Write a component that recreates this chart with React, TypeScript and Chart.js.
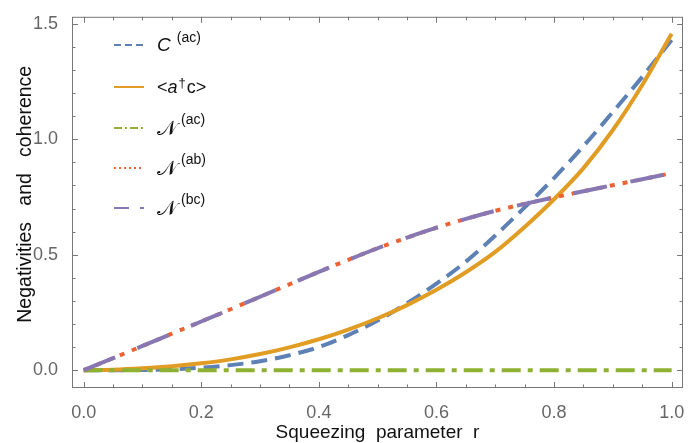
import React, { useEffect, useRef } from "react";
import { Chart, registerables } from "chart.js";

Chart.register(...registerables);

const rValues = [0, 0.05, 0.1, 0.15, 0.2, 0.25, 0.3, 0.35, 0.4, 0.45, 0.5, 0.55, 0.6, 0.65, 0.7, 0.75, 0.8, 0.85, 0.9, 0.95, 1.0];
const coherenceC = [0, 0, 0.001, 0.004, 0.011, 0.022, 0.039, 0.065, 0.1, 0.152, 0.215, 0.29, 0.375, 0.47, 0.583, 0.705, 0.832, 0.97, 1.118, 1.27, 1.43];
const correlationAC = [0, 0.002, 0.008, 0.017, 0.03, 0.047, 0.07, 0.099, 0.134, 0.176, 0.225, 0.282, 0.348, 0.424, 0.512, 0.62, 0.74, 0.875, 1.04, 1.235, 1.457];
const negAC = [0, 0, 0, 0, 0, 0, 0, 0, 0, 0, 0, 0, 0, 0, 0, 0, 0, 0, 0, 0, 0];
const negAB = [0, 0.052, 0.105, 0.158, 0.211, 0.264, 0.318, 0.372, 0.426, 0.478, 0.528, 0.574, 0.617, 0.655, 0.69, 0.72, 0.748, 0.775, 0.801, 0.827, 0.853];
const negBC = [0, 0.052, 0.105, 0.158, 0.211, 0.264, 0.318, 0.372, 0.426, 0.478, 0.528, 0.574, 0.617, 0.655, 0.69, 0.72, 0.748, 0.775, 0.801, 0.827, 0.853];
const xTickValues = [0, 0.2, 0.4, 0.6, 0.8, 1.0];
const yTickValues = [0, 0.5, 1.0, 1.5];

const BLUE = "#5e81b5";
const ORANGE = "#e19c24";
const GREEN = "#8fb131";
const RED = "#eb6235";
const PURPLE = "#8778b3";
const FRAME = "#777777";

const toPts = (ys: number[]) => ys.map((y, i) => ({ x: rValues[i], y }));

const legendItems = [
  { color: BLUE, dash: [7, 4], kind: "C", sup: "(ac)" },
  { color: ORANGE, dash: [], kind: "adag", sup: "" },
  { color: GREEN, dash: [8, 3, 2, 3], kind: "N", sup: "(ac)" },
  { color: RED, dash: [2, 3], kind: "N", sup: "(ab)" },
  { color: PURPLE, dash: [15, 11], kind: "N", sup: "(bc)" },
];

const framePlugin = {
  id: "frameTicks",
  afterDatasetsDraw(chart: any) {
    const { ctx, chartArea: a, scales } = chart;
    const xs = scales.x;
    const ys = scales.y;
    ctx.save();
    ctx.strokeStyle = FRAME;
    ctx.lineWidth = 1;
    ctx.strokeRect(a.left + 0.5, a.top + 0.5, a.right - a.left - 1, a.bottom - a.top - 1);
    ctx.beginPath();
    for (let i = 0; i <= 20; i++) {
      const v = i * 0.05;
      const major = i % 4 === 0;
      const len = major ? 6 : 3.5;
      const px = Math.round(xs.getPixelForValue(v)) + 0.5;
      ctx.moveTo(px, a.bottom);
      ctx.lineTo(px, a.bottom - len);
      ctx.moveTo(px, a.top);
      ctx.lineTo(px, a.top + len);
    }
    for (let i = 0; i <= 15; i++) {
      const v = i * 0.1;
      const major = i % 5 === 0;
      const len = major ? 6 : 3.5;
      const py = Math.round(ys.getPixelForValue(v)) + 0.5;
      ctx.moveTo(a.left, py);
      ctx.lineTo(a.left + len, py);
      ctx.moveTo(a.right, py);
      ctx.lineTo(a.right - len, py);
    }
    ctx.stroke();

    // legend
    const lx0 = 114;
    const lx1 = 144;
    const tx = 157;
    const rowY = [45, 87, 128, 168, 208];
    legendItems.forEach((it, i) => {
      const y = rowY[i];
      ctx.beginPath();
      ctx.strokeStyle = it.color;
      ctx.lineWidth = 2;
      ctx.setLineDash(it.dash);
      ctx.moveTo(lx0, y);
      ctx.lineTo(lx1, y);
      ctx.stroke();
      ctx.setLineDash([]);
      ctx.fillStyle = "#111";
      ctx.textBaseline = "alphabetic";
      const base = y + 6;
      let x = tx;
      if (it.kind === "C") {
        ctx.font = "italic 19px 'Liberation Sans'";
        ctx.fillText("C", x, base);
        x += ctx.measureText("C").width + 6;
        ctx.font = "14px 'Liberation Sans'";
        ctx.fillText(it.sup, x, base - 9);
      } else if (it.kind === "adag") {
        ctx.font = "18px 'Liberation Sans'";
        ctx.fillText("<", x, base);
        x += ctx.measureText("<").width;
        ctx.font = "italic 18px 'Liberation Sans'";
        ctx.fillText("a", x, base);
        x += ctx.measureText("a").width + 1;
        ctx.font = "13px 'Liberation Sans'";
        ctx.fillText("\u2020", x, base - 6);
        x += ctx.measureText("\u2020").width + 1;
        ctx.font = "18px 'Liberation Sans'";
        ctx.fillText("c>", x, base);
      } else {
        ctx.font = "21px 'DejaVu Sans'";
        ctx.fillText("\u{1D4A9}", x, base + 1);
        ctx.font = "14px 'Liberation Sans'";
        ctx.fillText(it.sup, x + 24, base - 10);
      }
    });
    ctx.restore();
  },
};

export default function App() {
  const ref = useRef<HTMLCanvasElement | null>(null);
  useEffect(() => {
    if (!ref.current) return;
    const lineBase = {
      pointRadius: 0,
      borderWidth: 4,
      fill: false,
      cubicInterpolationMode: "monotone" as const,
      borderCapStyle: "butt" as const,
    };
    const chart = new Chart(ref.current, {
      type: "line",
      data: {
        datasets: [
          { ...lineBase, label: "C(ac)", data: toPts(coherenceC), borderColor: BLUE, borderDash: [16, 8], order: 4 },
          { ...lineBase, label: "<a†c>", data: toPts(correlationAC), borderColor: ORANGE, order: 3 },
          { ...lineBase, label: "N(ac)", data: toPts(negAC), borderColor: GREEN, borderDash: [19, 7, 5, 7], order: 2 },
          { ...lineBase, label: "N(ab)", data: toPts(negAB), borderColor: RED, borderDash: [5, 8], order: 1 },
          { ...lineBase, label: "N(bc)", data: toPts(negBC), borderColor: PURPLE, borderDash: [34, 24], order: 0 },
        ],
      },
      options: {
        animation: false,
        responsive: false,
        maintainAspectRatio: false,
        layout: { padding: { top: 13, right: 16, left: 0, bottom: 0 } },
        plugins: { legend: { display: false }, tooltip: { enabled: false } },
        scales: {
          x: {
            type: "linear",
            min: -0.0199,
            max: 1.0193,
            grid: { display: false },
            border: { display: false },
            afterBuildTicks: (s: any) => {
              s.ticks = xTickValues.map((v) => ({ value: v }));
            },
            afterFit: (s: any) => {
              s.height = 55;
            },
            ticks: {
              padding: 6,
              color: "#666",
              font: { family: "'Liberation Sans'", size: 18 },
              callback: (v: any) => Number(v).toFixed(1),
              maxRotation: 0,
            },
            title: {
              display: true,
              text: "Squeezing  parameter  r",
              color: "#111",
              font: { family: "'Liberation Sans'", size: 19, lineHeight: 1 },
              padding: { top: 0, bottom: 0.5 },
            },
          },
          y: {
            type: "linear",
            min: -0.077,
            max: 1.53,
            grid: { display: false },
            border: { display: false },
            afterBuildTicks: (s: any) => {
              s.ticks = yTickValues.map((v) => ({ value: v }));
            },
            afterFit: (s: any) => {
              s.width = 72;
            },
            ticks: {
              padding: 6,
              color: "#666",
              font: { family: "'Liberation Sans'", size: 18 },
              callback: (v: any) => Number(v).toFixed(1),
            },
            title: {
              display: true,
              text: "   Negativities   and   coherence",
              color: "#111",
              font: { family: "'Liberation Sans'", size: 19.5, lineHeight: 1 },
              padding: { top: 16, bottom: 0 },
            },
          },
        },
      },
      plugins: [framePlugin],
    });
    return () => chart.destroy();
  }, []);
  return (
    <div style={{ position: "absolute", left: 0, top: 0, width: 699, height: 443, background: "#fff" }}>
      <canvas ref={ref} width={699} height={443} style={{ display: "block" }} />
    </div>
  );
}
